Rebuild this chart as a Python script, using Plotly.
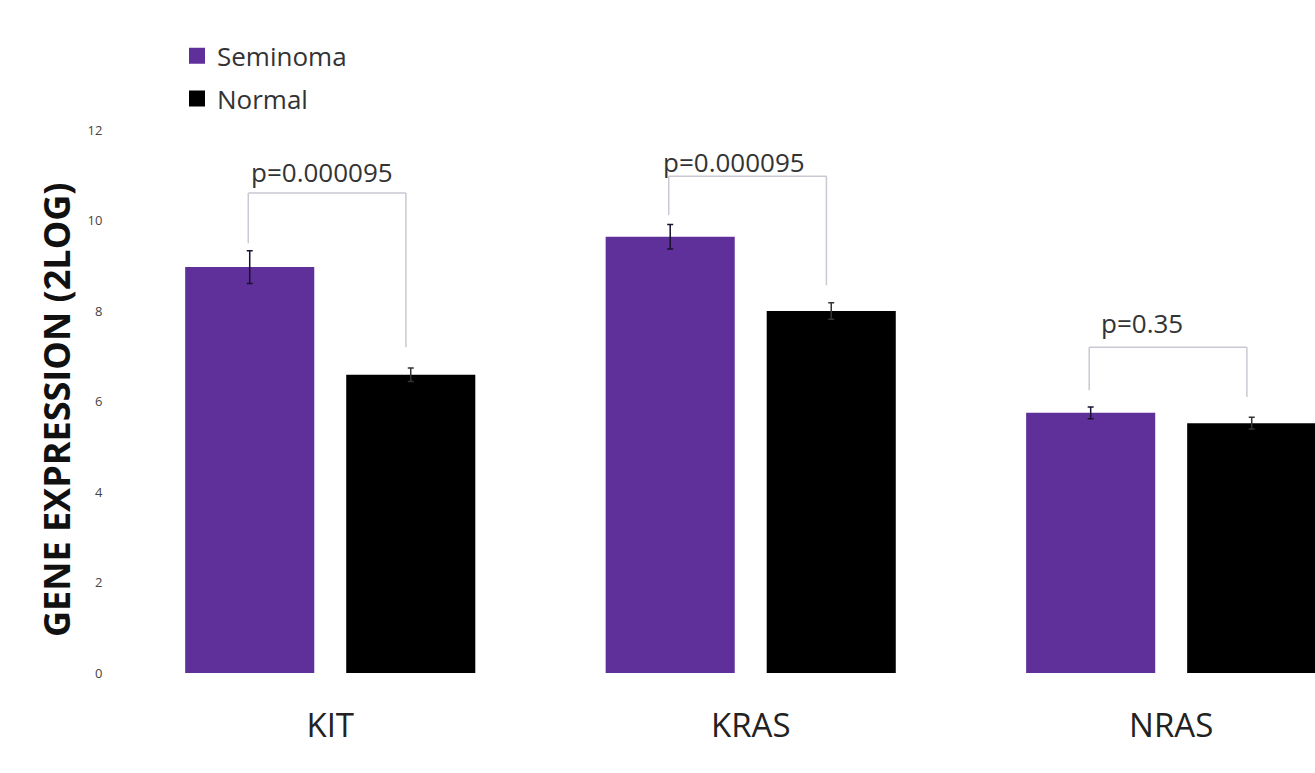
import plotly.graph_objects as go

# ---- data ----
genes = ["KIT", "KRAS", "NRAS"]
seminoma = [8.97, 9.64, 5.75]
seminoma_err = [0.36, 0.27, 0.13]
normal = [6.59, 8.00, 5.52]
normal_err = [0.15, 0.18, 0.13]
p_labels = ["p=0.000095", "p=0.000095", "p=0.35"]
bracket_top = [10.61, 10.98, 7.20]
bracket_left_bottom = [9.50, 10.12, 6.25]
bracket_right_bottom = [7.20, 8.57, 6.10]
p_label_y = [11.07, 11.29, 7.73]
p_label_dx = [-0.02, -0.04, -0.07]
y_ticks = [0, 2, 4, 6, 8, 10, 12]

PURPLE = "#60309a"
BAR_W = 0.307
FONT = "Open Sans"

fig = go.Figure()
fig.add_trace(go.Bar(
    x=genes, y=seminoma, name="Seminoma", width=BAR_W, offset=-0.345,
    marker=dict(color=PURPLE, line=dict(width=0)),
    error_y=dict(type="data", array=seminoma_err, color="#1a1030", thickness=1.5, width=3),
    showlegend=False,
))
fig.add_trace(go.Bar(
    x=genes, y=normal, name="Normal", width=BAR_W, offset=0.038,
    marker=dict(color="#000000", line=dict(width=0)),
    error_y=dict(type="data", array=normal_err, color="#333333", thickness=1.5, width=3),
    showlegend=False,
))
# legend entries
fig.add_trace(go.Scatter(x=[None], y=[None], mode="markers", name="Seminoma",
                         marker=dict(symbol="square", size=16, color=PURPLE),
                         legendgroup="a"))
fig.add_trace(go.Scatter(x=[None], y=[None], mode="markers", name="Normal",
                         marker=dict(symbol="square", size=16, color="#000000"),
                         legendgroup="b"))

shapes = []
annotations = []
for i, g in enumerate(genes):
    xl = i - 0.195
    xr = i + 0.18
    line = dict(color="#c9c9d3", width=1.5)
    shapes.append(dict(type="line", xref="x", yref="y", x0=xl, x1=xl,
                       y0=bracket_left_bottom[i], y1=bracket_top[i], line=line))
    shapes.append(dict(type="line", xref="x", yref="y", x0=xl, x1=xr,
                       y0=bracket_top[i], y1=bracket_top[i], line=line))
    shapes.append(dict(type="line", xref="x", yref="y", x0=xr, x1=xr,
                       y0=bracket_right_bottom[i], y1=bracket_top[i], line=line))
    annotations.append(dict(x=i + p_label_dx[i], y=p_label_y[i], xref="x", yref="y",
                            text=p_labels[i], showarrow=False,
                            font=dict(family=FONT, size=26, color="#333333")))

annotations.append(dict(x=-0.0536, y=0.486, xref="paper", yref="paper",
                        xanchor="center", yanchor="middle",
                        text="<b>GENE EXPRESSION (2LOG)</b>", textangle=-90,
                        showarrow=False,
                        font=dict(family=FONT, size=36, color="#111111")))

fig.update_layout(
    width=1315, height=773,
    margin=dict(l=120, r=0, t=130, b=100),
    paper_bgcolor="white", plot_bgcolor="white",
    barmode="overlay",
    shapes=shapes, annotations=annotations,
    legend=dict(x=0.0477, y=1.18, xanchor="left", yanchor="top",
                font=dict(family=FONT, size=26, color="#333333"),
                traceorder="grouped", tracegroupgap=6,
                bgcolor="rgba(0,0,0,0)"),
    xaxis=dict(range=[-0.5, 2.342], showgrid=False, showline=False, zeroline=False,
               ticks="outside", ticklen=23, tickcolor="rgba(0,0,0,0)",
               tickfont=dict(family=FONT, size=33, color="#222222")),
    yaxis=dict(range=[0, 12], tickvals=y_ticks, showgrid=False, showline=False,
               zeroline=False, ticks="outside", ticklen=14, tickcolor="rgba(0,0,0,0)",
               tickfont=dict(family=FONT, size=13, color="#444444")),
)

fig.write_html(
    "out.html",
    config={"displayModeBar": False},
    post_script="document.body.style.margin='0';document.body.style.overflow='hidden';",
)
